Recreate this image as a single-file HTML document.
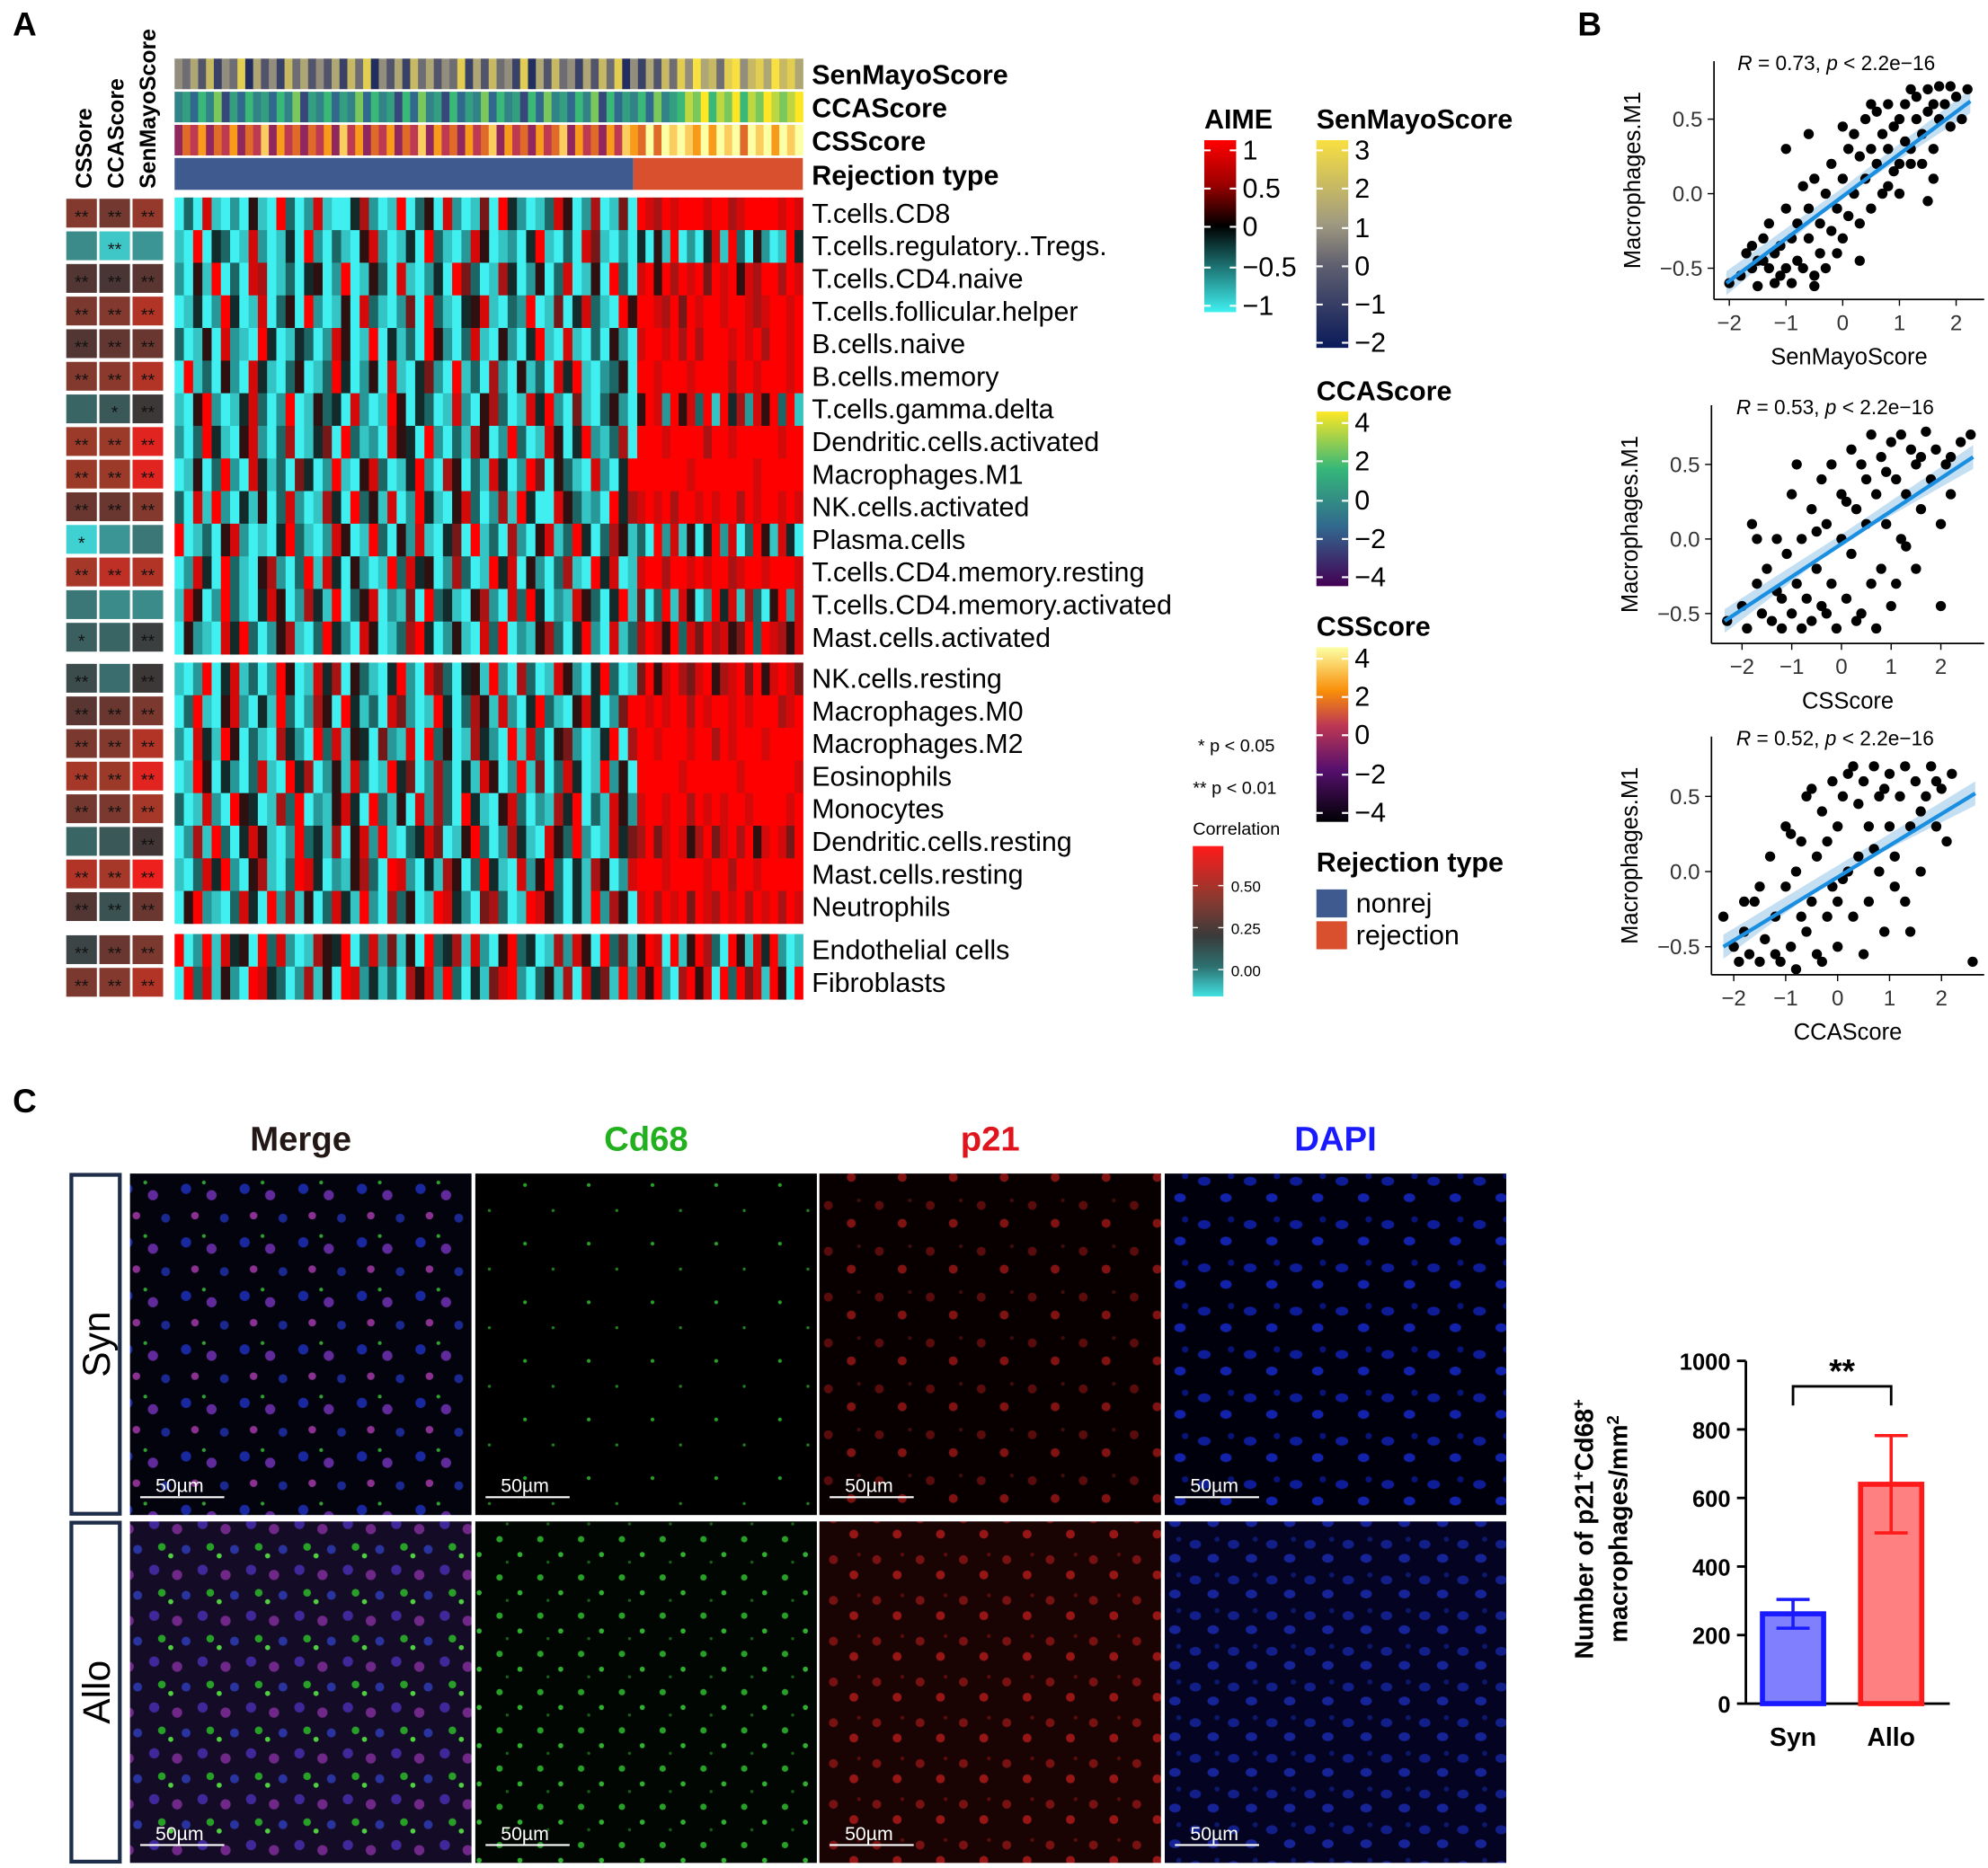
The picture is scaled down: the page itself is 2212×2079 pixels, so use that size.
<!DOCTYPE html>
<html><head><meta charset="utf-8"><style>
html,body{margin:0;padding:0;background:#fff}
svg{display:block;font-family:"Liberation Sans",Arial,sans-serif}
</style></head><body>
<svg id="fig" xmlns="http://www.w3.org/2000/svg" width="2212" height="2079" viewBox="0 0 1560 1466" preserveAspectRatio="none">
<defs>
<linearGradient id="gAIME" x1="0" y1="0" x2="0" y2="1"><stop offset="0" stop-color="#ff0000"/><stop offset="0.25" stop-color="#a00000"/><stop offset="0.5" stop-color="#000"/><stop offset="0.75" stop-color="#1f7a7a"/><stop offset="1" stop-color="#40f0f0"/></linearGradient>
<linearGradient id="gSen" x1="0" y1="0" x2="0" y2="1"><stop offset="0" stop-color="#f8e040"/><stop offset="0.4" stop-color="#a09a80"/><stop offset="0.6" stop-color="#606070"/><stop offset="1" stop-color="#0a1a5a"/></linearGradient>
<linearGradient id="gCCA" x1="0" y1="0" x2="0" y2="1"><stop offset="0" stop-color="#fde725"/><stop offset="0.33" stop-color="#35b779"/><stop offset="0.66" stop-color="#31688e"/><stop offset="1" stop-color="#440154"/></linearGradient>
<linearGradient id="gCSS" x1="0" y1="0" x2="0" y2="1"><stop offset="0" stop-color="#fcffa4"/><stop offset="0.25" stop-color="#f98e09"/><stop offset="0.45" stop-color="#bc3754"/><stop offset="0.7" stop-color="#57106e"/><stop offset="1" stop-color="#000004"/></linearGradient>
<linearGradient id="gCor" x1="0" y1="0" x2="0" y2="1"><stop offset="0" stop-color="#ff1a1a"/><stop offset="0.35" stop-color="#8a3a30"/><stop offset="0.6" stop-color="#3a3a3a"/><stop offset="0.8" stop-color="#2e7070"/><stop offset="1" stop-color="#40e0e0"/></linearGradient>
<pattern id="pMergeS" width="46" height="42" patternUnits="userSpaceOnUse"><rect width="46" height="42" fill="#03030e"/><circle cx="8" cy="9" r="4" fill="#1a28a0"/><circle cx="28" cy="14" r="4" fill="#602a9a"/><circle cx="38" cy="32" r="3.5" fill="#1a2890"/><circle cx="15" cy="30" r="3" fill="#8a3090"/><circle cx="22" cy="4" r="1.5" fill="#30a030"/></pattern>
<pattern id="pMergeA" width="38" height="36" patternUnits="userSpaceOnUse"><rect width="38" height="36" fill="#140c26"/><circle cx="7" cy="8" r="4" fill="#40289a"/><circle cx="25" cy="12" r="4" fill="#702888"/><circle cx="32" cy="28" r="3.5" fill="#2a34a0"/><circle cx="13" cy="26" r="3" fill="#28a028"/><circle cx="20" cy="33" r="2" fill="#50d040"/></pattern>
<pattern id="pCdS" width="50" height="46" patternUnits="userSpaceOnUse"><rect width="50" height="46" fill="#000"/><circle cx="12" cy="10" r="1.5" fill="#28a028"/><circle cx="34" cy="30" r="1.2" fill="#208020"/></pattern>
<pattern id="pCdA" width="32" height="30" patternUnits="userSpaceOnUse"><rect width="32" height="30" fill="#020602"/><circle cx="8" cy="8" r="2.5" fill="#28a028"/><circle cx="24" cy="20" r="2" fill="#30b030"/><circle cx="14" cy="26" r="1.2" fill="#186018"/></pattern>
<pattern id="pP21S" width="40" height="36" patternUnits="userSpaceOnUse"><rect width="40" height="36" fill="#080000"/><circle cx="10" cy="10" r="3.5" fill="#5a0c0c"/><circle cx="28" cy="24" r="3.5" fill="#801212"/><circle cx="34" cy="6" r="1.5" fill="#400c0c"/></pattern>
<pattern id="pP21A" width="34" height="32" patternUnits="userSpaceOnUse"><rect width="34" height="32" fill="#1a0303"/><circle cx="8" cy="8" r="3.5" fill="#781212"/><circle cx="24" cy="20" r="3.5" fill="#961515"/><circle cx="28" cy="4" r="1.5" fill="#5a0c0c"/></pattern>
<pattern id="pDapS" width="36" height="34" patternUnits="userSpaceOnUse"><rect width="36" height="34" fill="#00000c"/><ellipse cx="9" cy="9" rx="5" ry="3.5" fill="#0e1c98"/><ellipse cx="26" cy="22" rx="4.5" ry="3.5" fill="#1222aa"/><circle cx="30" cy="5" r="2.5" fill="#08147a"/></pattern>
<pattern id="pDapA" width="30" height="28" patternUnits="userSpaceOnUse"><rect width="30" height="28" fill="#040422"/><ellipse cx="8" cy="8" rx="4.5" ry="3.5" fill="#121f88"/><ellipse cx="22" cy="19" rx="4.5" ry="3.5" fill="#162498"/><circle cx="25" cy="4" r="2" fill="#0c186c"/></pattern>
</defs>
<g id="root"></g>
</svg>
<script>
// ---------- DATA ----------
const cellTypes=["T.cells.CD8","T.cells.regulatory..Tregs.","T.cells.CD4.naive","T.cells.follicular.helper","B.cells.naive","B.cells.memory","T.cells.gamma.delta","Dendritic.cells.activated","Macrophages.M1","NK.cells.activated","Plasma.cells","T.cells.CD4.memory.resting","T.cells.CD4.memory.activated","Mast.cells.activated","NK.cells.resting","Macrophages.M0","Macrophages.M2","Eosinophils","Monocytes","Dendritic.cells.resting","Mast.cells.resting","Neutrophils","Endothelial cells","Fibroblasts"];
const rowGroup=[0,0,0,0,0,0,0,0,0,0,0,0,0,0,1,1,1,1,1,1,1,1,2,2];
const heatNonrej=["03081020510930281004720190350820160942013850270160","10904301820140920310582014093102850120491030861020","20519030870130450290153081024096301740250380150930","01402940180350920150831026093104581032901604831095","30150821094014302850190413095203810520491081030520","09130520841035013940250810462091307205130849102350","10592014830290153408201950430182057301849206103520","20394105820370146093120854092031750293018504921370","01503920841306402910583014920750318402960531082049","30819204150382017409351802941058302719400853120947","90130582010493102850193052810460913072058139403751","02840931057203918405201938450273019480520371094801","18502931048502741903580216093410572083940218530491","05210849302571039420850137940251083902157304920813","10290481302950184705310492086304519207301852049301","03910582041930275094130862019403751820493105840269","20841950310742093815406218093501742091830562014907","01950420381094702518301946027304185029160384019250","30182095401739021584093150827309410583021749031852","02719304851029341705829103486015930274108539201846","10384920571039840215730982041750394108259304175028","05921038409271503841920735019842067301985304192750","90291845093820175490382615093471820593401728509361","09381520984302715098241307582930416892035170846192"];
const heatRej=["98798999899789999898","40519020481930520194","89597989698958799798","99879698998998789989","89989797999898979989","99899989999799899989","59829583919472859391","99989999799899999899","99999989999999899999","89897998989979899898","30928150492803951840","89979989899789989998","60391850294817305928","79859386978569398758","69589768957896958986","98989979899898999789","99899989979899989999","99999899999989999998","89989979898998999989","79689857968979589869","99989999899799899999","89798969879897989798","59809159730951849201","85920795809396819509"];
const annSen="54637254816352746353627481536274635482637452816374526374815263748596748957869786";
const annCCA="45364725364536472546354736452637452635473645263745364726354637456879687968798789";
const annCSS="46574657465847564657485746574658475647568475647568475647587696989879798969897989";
const corCSS=[0.42,0.02,0.30,0.40,0.30,0.42,0.10,0.48,0.48,0.36,-0.12,0.50,0.06,0.12,0.18,0.32,0.40,0.50,0.38,0.10,0.52,0.30,0.20,0.40];
const corCCA=[0.38,-0.10,0.28,0.42,0.34,0.44,0.14,0.48,0.48,0.36,0.00,0.54,0.02,0.10,0.08,0.36,0.42,0.48,0.40,0.14,0.50,0.16,0.36,0.42];
const corSen=[0.46,0.00,0.32,0.52,0.36,0.52,0.24,0.60,0.60,0.42,0.06,0.52,0.02,0.22,0.24,0.40,0.52,0.60,0.50,0.26,0.62,0.36,0.40,0.52];
const sigCSS=["**","","**","**","**","**","","**","**","**","*","**","","*","**","**","**","**","**","","**","**","**","**"];
const sigCCA=["**","**","**","**","**","**","*","**","**","**","","**","","","","**","**","**","**","","**","**","**","**"];
const sigSen=["**","","**","**","**","**","**","**","**","**","","**","","**","**","**","**","**","**","**","**","**","**","**"];
const senPts=[[-2,-0.6],[-1.8,-0.55],[-1.7,-0.4],[-1.6,-0.5],[-1.5,-0.45],[-1.5,-0.62],[-1.4,-0.3],[-1.3,-0.5],[-1.3,-0.2],[-1.2,-0.6],[-1.2,-0.4],[-1.1,-0.35],[-1.1,-0.55],[-1.0,-0.1],[-1.0,-0.5],[-0.9,-0.3],[-0.9,-0.6],[-0.8,-0.2],[-0.8,-0.45],[-0.7,0.05],[-0.7,-0.5],[-0.6,-0.3],[-0.6,-0.1],[-0.5,-0.55],[-0.5,0.1],[-0.4,-0.4],[-0.4,-0.2],[-0.3,0.0],[-0.3,-0.5],[-0.2,-0.25],[-0.2,0.2],[-0.1,-0.1],[-0.1,-0.4],[0,0.1],[0,-0.3],[0.1,0.3],[0.1,-0.15],[0.2,0.0],[0.2,0.4],[0.3,-0.2],[0.3,0.25],[0.4,0.1],[0.4,0.5],[0.5,-0.1],[0.5,0.3],[0.6,0.2],[0.6,0.55],[0.7,0.0],[0.7,0.4],[0.8,0.3],[0.8,0.6],[0.9,0.15],[0.9,0.45],[1.0,0.5],[1.0,0.2],[1.1,0.6],[1.1,0.35],[1.2,0.7],[1.2,0.3],[1.3,0.5],[1.3,0.65],[1.4,0.4],[1.4,0.2],[1.5,0.7],[1.5,0.55],[1.6,0.3],[1.6,0.6],[1.7,0.5],[1.7,0.72],[1.8,0.6],[1.9,0.45],[2.0,0.65],[2.1,0.5],[2.2,0.7],[-1.0,0.3],[-0.5,-0.62],[0.3,-0.45],[1.0,0.0],[1.5,-0.05],[-1.4,-0.45],[0.8,0.05],[1.2,0.2],[-0.6,0.4],[0.0,0.45],[1.9,0.72],[1.6,0.1],[0.5,0.6],[-1.6,-0.35]];
const cssPts=[[-2.3,-0.55],[-2.0,-0.45],[-1.9,-0.6],[-1.8,0.1],[-1.7,-0.3],[-1.6,-0.5],[-1.5,-0.2],[-1.4,-0.55],[-1.3,0.0],[-1.2,-0.4],[-1.2,-0.6],[-1.1,-0.1],[-1.0,-0.5],[-1.0,0.3],[-0.9,-0.3],[-0.8,-0.6],[-0.8,0.0],[-0.7,-0.4],[-0.6,0.2],[-0.6,-0.55],[-0.5,-0.2],[-0.4,0.4],[-0.4,-0.45],[-0.3,0.1],[-0.2,-0.3],[-0.2,0.5],[-0.1,-0.6],[0,0.0],[0,0.3],[0.1,-0.4],[0.2,0.6],[0.2,-0.1],[0.3,0.2],[0.4,-0.5],[0.4,0.5],[0.5,0.1],[0.6,-0.3],[0.6,0.7],[0.7,0.3],[0.8,-0.2],[0.8,0.55],[0.9,0.1],[1.0,0.65],[1.0,-0.45],[1.1,0.4],[1.2,0.0],[1.2,0.7],[1.3,0.3],[1.4,0.6],[1.5,-0.2],[1.5,0.5],[1.6,0.2],[1.7,0.72],[1.8,0.4],[1.9,0.6],[2.0,0.1],[2.1,0.5],[2.2,0.3],[2.4,0.65],[2.6,0.7],[-1.3,-0.35],[-0.5,0.05],[0.3,-0.55],[0.9,0.45],[1.3,-0.05],[2.0,-0.45],[-0.9,0.5],[0.1,0.25],[0.7,-0.6],[1.6,0.55],[-1.7,0.0],[-0.3,-0.5],[0.5,0.4],[1.1,-0.3],[2.2,0.55]];
const ccaPts=[[-2.2,-0.3],[-2.0,-0.5],[-1.9,-0.6],[-1.8,-0.4],[-1.7,-0.55],[-1.6,-0.2],[-1.5,-0.6],[-1.4,-0.45],[-1.3,0.1],[-1.2,-0.3],[-1.1,-0.6],[-1.0,-0.1],[-1.0,0.3],[-0.9,-0.5],[-0.8,0.0],[-0.8,-0.65],[-0.7,0.2],[-0.6,-0.4],[-0.6,0.5],[-0.5,-0.2],[-0.4,0.1],[-0.4,-0.55],[-0.3,0.4],[-0.2,-0.3],[-0.1,0.6],[-0.1,-0.1],[0,0.3],[0,-0.5],[0.1,0.5],[0.2,0.0],[0.2,0.65],[0.3,-0.3],[0.4,0.45],[0.4,0.1],[0.5,0.6],[0.6,-0.2],[0.6,0.3],[0.7,0.7],[0.8,0.0],[0.8,0.5],[0.9,-0.4],[1.0,0.3],[1.0,0.65],[1.1,0.1],[1.2,0.5],[1.3,-0.2],[1.3,0.7],[1.4,0.3],[1.5,0.6],[1.6,0.0],[1.7,0.5],[1.8,0.7],[1.9,0.3],[2.0,0.55],[2.2,0.65],[2.6,-0.6],[-1.5,-0.1],[-0.9,0.25],[-0.2,0.2],[0.5,-0.55],[1.1,-0.1],[-1.2,-0.55],[0.3,0.7],[1.4,-0.4],[-0.5,0.55],[0.0,-0.2],[0.9,0.55],[1.6,0.4],[-1.8,-0.2],[-0.7,-0.3],[2.1,0.2],[0.7,0.15],[-0.3,-0.6],[1.9,0.6],[0.1,-0.05]];
const barCats=["Syn","Allo"];
const barMeans=[262,640];
const barErr=[42,142];
const barTicks=[0,200,400,600,800,1000];

// ---------- helpers ----------
const NS="http://www.w3.org/2000/svg";
const root=document.getElementById('root');
function mk(tag,attrs,parent){const e=document.createElementNS(NS,tag);for(const k in attrs)e.setAttribute(k,attrs[k]);(parent||root).appendChild(e);return e;}
function txt(s,attrs,parent){const e=mk('text',attrs,parent);e.textContent=s;return e;}
function hex(h){return [parseInt(h.slice(1,3),16),parseInt(h.slice(3,5),16),parseInt(h.slice(5,7),16)];}
function ramp(stops,t){t=Math.max(0,Math.min(1,t));for(let i=1;i<stops.length;i++){if(t<=stops[i][0]){const a=stops[i-1],b=stops[i];const f=(t-a[0])/(b[0]-a[0]);const ca=hex(a[1]),cb=hex(b[1]);return 'rgb('+ca.map((v,j)=>Math.round(v+(cb[j]-v)*f)).join(',')+')';}}return stops[stops.length-1][1];}
const heatStops=[[0,'#40f0f0'],[0.3,'#207878'],[0.5,'#0c0c0c'],[0.7,'#8b1a1a'],[1,'#ff0000']];
const senStops=[[0,'#0a1a5a'],[0.4,'#606070'],[0.6,'#a09a80'],[1,'#f8e040']];
const viridis=[[0,'#440154'],[0.33,'#31688e'],[0.66,'#35b779'],[1,'#fde725']];
const inferno=[[0,'#000004'],[0.3,'#57106e'],[0.55,'#bc3754'],[0.75,'#f98e09'],[1,'#fcffa4']];
const corStops=[[0,'#40e0e0'],[0.3,'#3a6868'],[0.5,'#3d3535'],[0.8,'#a03a2a'],[1,'#ff1a1a']];
const corScale=c=>(c+0.15)/0.8;
const FS=21.5;

// ---------- Panel letters ----------
[["A",10,28],["B",1238,28],["C",10,873]].forEach(([s,x,y])=>{const t=txt(s,{x:x,y:y,'font-size':26,'font-weight':'bold'});

});

// ---------- Heatmap ----------
const hmX0=137,hmX1=630,hmSplit=500;
const gStart=[155,520,733],rowH=25.6;
function rowY(i){const g=rowGroup[i];let k=0;for(let j=0;j<i;j++)if(rowGroup[j]===g)k++;return gStart[g]+k*rowH;}
const hm=mk('g',{});


cellTypes.forEach((name,i)=>{
  const y=rowY(i),h=rowH;
  const segs=[[heatNonrej[i],hmX0,hmSplit],[heatRej[i],hmSplit,hmX1]];
  segs.forEach(([s,a,b])=>{const w=(b-a)/s.length;for(let c=0;c<s.length;c++){const r=mk('rect',{x:a+c*w,y:y,width:w+0.4,height:h+0.3,fill:ramp(heatStops,(+s[c])/9)},hm);
  
  }});
  const lb=txt(name,{x:637,y:y+h/2+7,'font-size':FS});
  
  
  [[corCSS,sigCSS,52],[corCCA,sigCCA,78],[corSen,sigSen,104]].forEach(([cv,sg,x])=>{
    const r=mk('rect',{x:x,y:y+1,width:24,height:h-3,fill:ramp(corStops,corScale(cv[i]))});
    
    
    if(sg[i]){const st=txt(sg[i],{x:x+12,y:y+h/2+7,'font-size':14,'text-anchor':'middle',fill:'#111'});
    
    }
  });
});
const ann=[[annSen,senStops,46,'SenMayoScore'],[annCCA,viridis,72,'CCAScore'],[annCSS,inferno,98,'CSScore']];
ann.forEach(([s,st,y,lab])=>{const w=(hmX1-hmX0)/s.length;for(let c=0;c<s.length;c++){const r=mk('rect',{x:hmX0+c*w,y:y,width:w+0.4,height:24,fill:ramp(st,(+s[c])/9)});

}
const t=txt(lab,{x:637,y:y+20,'font-size':FS,'font-weight':'bold'});

});
const rj1=mk('rect',{x:hmX0,y:124,width:497-hmX0,height:25,fill:'#3f5a8f'});


const rj2=mk('rect',{x:497,y:124,width:hmX1-497,height:25,fill:'#d9502f'});


const rjl=txt('Rejection type',{x:637,y:145,'font-size':FS,'font-weight':'bold'});


[['CSSore',72],['CCAScore',97],['SenMayoScore',122]].forEach(([s,x])=>{const t=txt(s,{x:x,y:148,'font-size':17.5,'font-weight':'bold',transform:'rotate(-90 '+x+' 148)'});

});

// ---------- Legends ----------
function colorbar(name,title,tx,ty,x,y0,y1,grad,ticks,tickYs){
  const t=txt(title,{x:tx,y:ty,'font-size':FS,'font-weight':'bold'});
  
  
  const r=mk('rect',{x:x,y:y0,width:25,height:y1-y0,fill:'url(#'+grad+')'});
  
  
  ticks.forEach((tk,i)=>{const yy=tickYs[i];
    mk('line',{x1:x,x2:x+5,y1:yy,y2:yy,stroke:'#fff','stroke-width':1.5});
    mk('line',{x1:x+20,x2:x+25,y1:yy,y2:yy,stroke:'#fff','stroke-width':1.5});
    const l=txt(tk,{x:x+30,y:yy+7,'font-size':FS});
    
    });
}
colorbar('aime','AIME',945,101,945,110,245,'gAIME',['1','0.5','0','\u22120.5','\u22121'],[118,148,178,210,240]);
colorbar('senmayo','SenMayoScore',1033,101,1033,110,273,'gSen',['3','2','1','0','\u22121','\u22122'],[118,148,179,209,239,269]);
colorbar('cca','CCAScore',1033,314,1033,323,460,'gCCA',['4','2','0','\u22122','\u22124'],[332,362,393,423,453]);
colorbar('css','CSScore',1033,499,1033,508,645,'gCSS',['4','2','0','\u22122','\u22124'],[517,547,577,608,638]);
const p1=txt('* p < 0.05',{x:940,y:590,'font-size':14});


const p2=txt('** p < 0.01',{x:936,y:623,'font-size':14});


const ct=txt('Correlation',{x:936,y:655,'font-size':14});


const cb=mk('rect',{x:936,y:664,width:24,height:118,fill:'url(#gCor)'});


[['0.50',695],['0.25',728],['0.00',761]].forEach(([s,y])=>{mk('line',{x1:936,x2:940,y1:y,y2:y,stroke:'#fff'});mk('line',{x1:956,x2:960,y1:y,y2:y,stroke:'#fff'});
const l=txt(s,{x:966,y:y+5,'font-size':12});

});
const rt=txt('Rejection type',{x:1033,y:684,'font-size':FS,'font-weight':'bold'});


[['nonrej','#3f5a8f',698],['rejection','#d9502f',723]].forEach(([s,c,y])=>{const r=mk('rect',{x:1033,y:y,width:24,height:22,fill:c});


const l=txt(s,{x:1064,y:y+18,'font-size':FS});

});

// ---------- Scatter panels ----------
function scatter(name,pts,ax,xlab,stat,line){
  const g=mk('g',{});
  
  
  const X=v=>ax.x0+v*ax.kx, Y=v=>ax.y0-v*ax.ky;
  const [lx0,ly0,lx1,ly1]=line;
  const band=mk('path',{d:`M${X(lx0)},${Y(ly0-0.08)} L${X(0)},${Y((ly0+ly1)/2-0.03)} L${X(lx1)},${Y(ly1-0.08)} L${X(lx1)},${Y(ly1+0.08)} L${X(0)},${Y((ly0+ly1)/2+0.03)} L${X(lx0)},${Y(ly0+0.08)}Z`,fill:'#9cc8ea',opacity:0.6},g);
  
  
  pts.forEach(p=>{const c=mk('circle',{cx:X(p[0]),cy:Y(p[1]),r:4,fill:'#000'},g);
  
  });
  const rl=mk('line',{x1:X(lx0),y1:Y(ly0),x2:X(lx1),y2:Y(ly1),stroke:'#1a8ee0','stroke-width':3},g);
  
  
  mk('line',{x1:ax.l,x2:ax.r,y1:ax.b,y2:ax.b,stroke:'#000','stroke-width':1.2},g);
  mk('line',{x1:ax.l,x2:ax.l,y1:ax.t,y2:ax.b,stroke:'#000','stroke-width':1.2},g);
  [-2,-1,0,1,2].forEach(v=>{mk('line',{x1:X(v),x2:X(v),y1:ax.b,y2:ax.b+5,stroke:'#000'},g);
  const l=txt(v<0?'\u2212'+(-v):''+v,{x:X(v),y:ax.b+24,'font-size':17,'text-anchor':'middle',fill:'#333'},g);
  
  });
  [0.5,0,-0.5].forEach(v=>{mk('line',{x1:ax.l-5,x2:ax.l,y1:Y(v),y2:Y(v),stroke:'#000'},g);
  const l=txt(v<0?'\u22120.5':v.toFixed(1),{x:ax.l-9,y:Y(v)+6,'font-size':17,'text-anchor':'end',fill:'#333'},g);
  
  });
  const xl=txt(xlab,{x:(ax.l+ax.r)/2,y:ax.b+51,'font-size':18,'text-anchor':'middle'},g);
  
  
  const yx=ax.l-58,yy=(ax.t+ax.b)/2;
  const yl=txt('Macrophages.M1',{x:yx,y:yy,'font-size':18,'text-anchor':'middle',transform:`rotate(-90 ${yx} ${yy})`},g);
  
  
  const st=mk('text',{x:(ax.l+ax.r)/2-10,y:ax.t+7,'font-size':16,'text-anchor':'middle'},g);
  st.innerHTML=`<tspan font-style="italic">R</tspan> = ${stat}, <tspan font-style="italic">p</tspan> &lt; 2.2e\u221216`;
  
  
}
scatter('senmayo',senPts,{x0:1446,kx:44.5,y0:152,ky:117,l:1345,r:1557,t:48,b:235},'SenMayoScore','0.73',[-2.05,-0.6,2.25,0.62]);
scatter('css',cssPts,{x0:1445,kx:39,y0:423,ky:117,l:1343,r:1557,t:318,b:505},'CSScore','0.53',[-2.35,-0.55,2.65,0.55]);
scatter('cca',ccaPts,{x0:1442,kx:40.75,y0:684,ky:118,l:1343,r:1557,t:578,b:765},'CCAScore','0.52',[-2.2,-0.5,2.65,0.52]);

// ---------- Panel C images ----------
const colX=[102,373,643,914],rowYs=[921,1194],imgW=268,imgH=268;
const pats=[['pMergeS','pCdS','pP21S','pDapS'],['pMergeA','pCdA','pP21A','pDapA']];
[['Merge','#231815'],['Cd68','#22b01e'],['p21','#e0141c'],['DAPI','#1a1aff']].forEach(([s,c],i)=>{
  const t=txt(s,{x:colX[i]+imgW/2,y:903,'font-size':27,'font-weight':'bold','text-anchor':'middle',fill:c});
  
  });
rowYs.forEach((y,r)=>{
  colX.forEach((x,c)=>{const im=mk('rect',{x:x,y:y,width:imgW,height:imgH,fill:'url(#'+pats[r][c]+')'});
  
  
  mk('line',{x1:x+8,x2:x+74,y1:y+imgH-14,y2:y+imgH-14,stroke:'#fff','stroke-width':1.5});
  const sb=txt('50\u00b5m',{x:x+20,y:y+imgH-18,'font-size':15,fill:'#fff'});
  
  });
  const bx=mk('rect',{x:56,y:y+1,width:38,height:imgH-2,fill:'#fff',stroke:'#1e2d4a','stroke-width':3});
  
  
  const lab=['Syn','Allo'][r],cy=y+imgH/2;
  const t=txt(lab,{x:86,y:cy,'font-size':30,'text-anchor':'middle',transform:`rotate(-90 86 ${cy})`});
  
  
});

// ---------- Bar chart ----------
const bY=v=>1337-v*0.269;
const barX=[1407,1484],barW=48,barFill=['#8080ff','#ff8080'],barStroke=['#1a1aff','#ff1a1a'];
mk('line',{x1:1370,x2:1370,y1:1068,y2:1337,stroke:'#000','stroke-width':2});
mk('line',{x1:1370,x2:1530,y1:1337,y2:1337,stroke:'#000','stroke-width':2});
barTicks.forEach(v=>{mk('line',{x1:1363,x2:1370,y1:bY(v),y2:bY(v),stroke:'#000','stroke-width':2});
const l=txt(''+v,{x:1358,y:bY(v)+7,'font-size':18,'font-weight':'bold','text-anchor':'end'});

});
barCats.forEach((c,i)=>{
  const r=mk('rect',{x:barX[i]-barW/2,y:bY(barMeans[i]),width:barW,height:1337-bY(barMeans[i]),fill:barFill[i],stroke:barStroke[i],'stroke-width':4});
  
  
  const t=bY(barMeans[i]+barErr[i]),b=bY(barMeans[i]-barErr[i]);
  const e=mk('path',{d:`M${barX[i]},${t}V${b}M${barX[i]-13},${t}H${barX[i]+13}M${barX[i]-13},${b}H${barX[i]+13}`,stroke:barStroke[i],'stroke-width':2.5,fill:'none'});
  
  
  const l=txt(c,{x:barX[i],y:1370,'font-size':20,'font-weight':'bold','text-anchor':'middle'});
  
  
});
const br=mk('path',{d:`M${barX[0]},1103V1088H${barX[1]}V1103`,stroke:'#000','stroke-width':2,fill:'none'});


const ss=txt('**',{x:(barX[0]+barX[1])/2,y:1085,'font-size':26,'font-weight':'bold','text-anchor':'middle'});


const yl1=mk('text',{x:1250,y:1200,'font-size':20,'font-weight':'bold','text-anchor':'middle',transform:'rotate(-90 1250 1200)'});
yl1.innerHTML='Number of p21<tspan dy="-7" font-size="13">+</tspan><tspan dy="7">Cd68</tspan><tspan dy="-7" font-size="13">+</tspan>';


const yl2=mk('text',{x:1277,y:1200,'font-size':20,'font-weight':'bold','text-anchor':'middle',transform:'rotate(-90 1277 1200)'});
yl2.innerHTML='macrophages/mm<tspan dy="-7" font-size="13">2</tspan>';


</script>
</body></html>
